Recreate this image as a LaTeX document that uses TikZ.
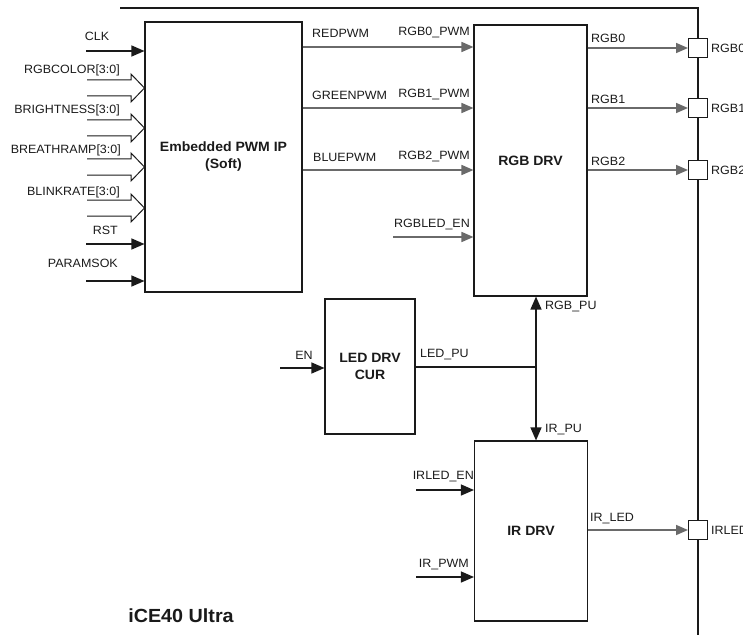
\documentclass[tikz,border=0pt]{standalone}
\usepackage{fontspec}
\setmainfont{Liberation Sans}[FakeStretch=1.04]
\usetikzlibrary{arrows.meta}
\definecolor{ln}{HTML}{1A1A1A}
\definecolor{gr}{HTML}{6A6A6A}
\begin{document}
\begin{tikzpicture}[x=1pt,y=-1pt,
  box/.style={draw=ln, line width=1.1pt, fill=white, inner sep=0pt, align=center,
    font=\fontsize{13.5}{17}\selectfont\bfseries, text=ln},
  lbl/.style={font=\fontsize{12}{14}\selectfont, inner sep=0pt, text=ln},
  blk/.style={draw=ln, line width=1.3pt, -{Triangle[length=13pt,width=11pt]}},
  gry/.style={draw=gr, line width=1.6pt, -{Triangle[length=12pt,width=10pt]}},
  padbox/.style={draw=ln, line width=1pt, fill=white, minimum size=19pt, inner sep=0pt},
  bus/.style={draw=ln, line width=1pt, line join=miter}]

\useasboundingbox (0,0) rectangle (743,639);

% chip border
\coordinate (bl) at (120,8);
\coordinate (bc) at (698,8);
\coordinate (bb) at (698,635);
\draw[ln, line width=1.3pt] (bl) -- (bc) -- (bb);

% blocks
\node[box, minimum width=157pt, minimum height=270pt] (pwm) at (223.5,157) {Embedded PWM IP\\(Soft)};
\node[box, minimum width=113pt, minimum height=271pt] (rgb) at (530.5,160.5) {RGB DRV};
\node[box, minimum width=90pt, minimum height=135pt] (led) at (370,366.5) {LED DRV\\CUR};
\node[box, minimum width=113pt, minimum height=180pt] (ir) at (531,531) {IR DRV};

% pads
\node[padbox] (p0) at (698,48) {};
\node[padbox] (p1) at (698,108) {};
\node[padbox] (p2) at (698,170) {};
\node[padbox] (p3) at (698,530) {};
\node[lbl, anchor=west] (p0l) at (711,48) {RGB0};
\node[lbl, anchor=west] (p1l) at (711,108) {RGB1};
\node[lbl, anchor=west] (p2l) at (711,170) {RGB2};
\node[lbl, anchor=west] (p3l) at (711,530) {IRLED};

% RGB outputs
\draw[gry] (rgb.east |- p0) -- (p0.west);
\draw[gry] (rgb.east |- p1) -- (p1.west);
\draw[gry] (rgb.east |- p2) -- (p2.west);
\draw[gry] (ir.east |- p3) -- (p3.west);
\node[lbl, anchor=west] (o0) at (591,38) {RGB0};
\node[lbl, anchor=west] (o1) at (591,99) {RGB1};
\node[lbl, anchor=west] (o2) at (591,161) {RGB2};
\node[lbl, anchor=west] (o3) at (590,519) {IR\_LED};

% PWM -> RGB DRV
\coordinate (r0) at (0,47);
\coordinate (r1) at (0,108);
\coordinate (r2) at (0,170);
\coordinate (r3) at (393,237);
\draw[gry] (pwm.east |- r0) -- (rgb.west |- r0);
\draw[gry] (pwm.east |- r1) -- (rgb.west |- r1);
\draw[gry] (pwm.east |- r2) -- (rgb.west |- r2);
\draw[gry] (r3) -- (rgb.west |- r3);
\node[lbl, anchor=west] (t0) at (312,33) {REDPWM};
\node[lbl, anchor=west] (t1) at (312,95) {GREENPWM};
\node[lbl, anchor=west] (t2) at (313,157) {BLUEPWM};
\node[lbl, anchor=east] (u0) at (470,33) {RGB0\_PWM};
\node[lbl, anchor=east] (u1) at (470,95) {RGB1\_PWM};
\node[lbl, anchor=east] (u2) at (470,157) {RGB2\_PWM};
\node[lbl, anchor=east] (u3) at (470,225) {RGBLED\_EN};

% left inputs
\coordinate (iclk) at (86,51);
\coordinate (irst) at (86,244);
\coordinate (ipar) at (86,281);
\draw[blk] (iclk) -- (pwm.west |- iclk);
\draw[blk] (irst) -- (pwm.west |- irst);
\draw[blk] (ipar) -- (pwm.west |- ipar);
\node[lbl] (lclk) at (97,36) {CLK};
\node[lbl, anchor=east] (lrst) at (118,230) {RST};
\node[lbl, anchor=east] (lpar) at (118,263) {PARAMSOK};

% bus inputs
\foreach \ty/\nm in {88/a,128/b,167/c,208/d}{
  \coordinate (bus\nm) at (87,\ty);
  \draw[bus] (bus\nm) ++(0,-8) -- (131,\ty-8) -- (131,\ty-14) -- (pwm.west |- 0,\ty)
    -- (131,\ty+14) -- (131,\ty+8) -- (87,\ty+8);
}
\node[lbl, anchor=east] (la) at (120,70) {RGBCOLOR[3:0]};
\node[lbl, anchor=east] (lb) at (120,110) {BRIGHTNESS[3:0]};
\node[lbl, anchor=east] (lc) at (121,150) {BREATHRAMP[3:0]};
\node[lbl, anchor=east] (ld) at (120,192) {BLINKRATE[3:0]};

% LED DRV CUR
\coordinate (en) at (280,368);
\draw[blk] (en) -- (led.west |- en);
\node[lbl] (len) at (304,355) {EN};
\coordinate (j) at (536,367);
\draw[ln, line width=1.3pt] (led.east |- j) -- (j);
\draw[blk] (j) -- (rgb.south -| j);
\draw[blk] (j) -- (ir.north -| j);
\node[lbl, anchor=west] (lpu) at (420,355) {LED\_PU};
\node[lbl, anchor=west] (rpu) at (545,307) {RGB\_PU};
\node[lbl, anchor=west] (ipu) at (545,430) {IR\_PU};

% IR DRV inputs
\coordinate (ien) at (416,490);
\coordinate (ipw) at (416,577);
\draw[blk] (ien) -- (ir.west |- ien);
\draw[blk] (ipw) -- (ir.west |- ipw);
\node[lbl, anchor=east] (lien) at (474,477) {IRLED\_EN};
\node[lbl, anchor=east] (lipw) at (469,565) {IR\_PWM};

% title
\node[font=\fontsize{19}{21}\selectfont\bfseries, text=ln, inner sep=0pt] (title) at (181,616) {iCE40 Ultra};
\end{tikzpicture}
\end{document}
